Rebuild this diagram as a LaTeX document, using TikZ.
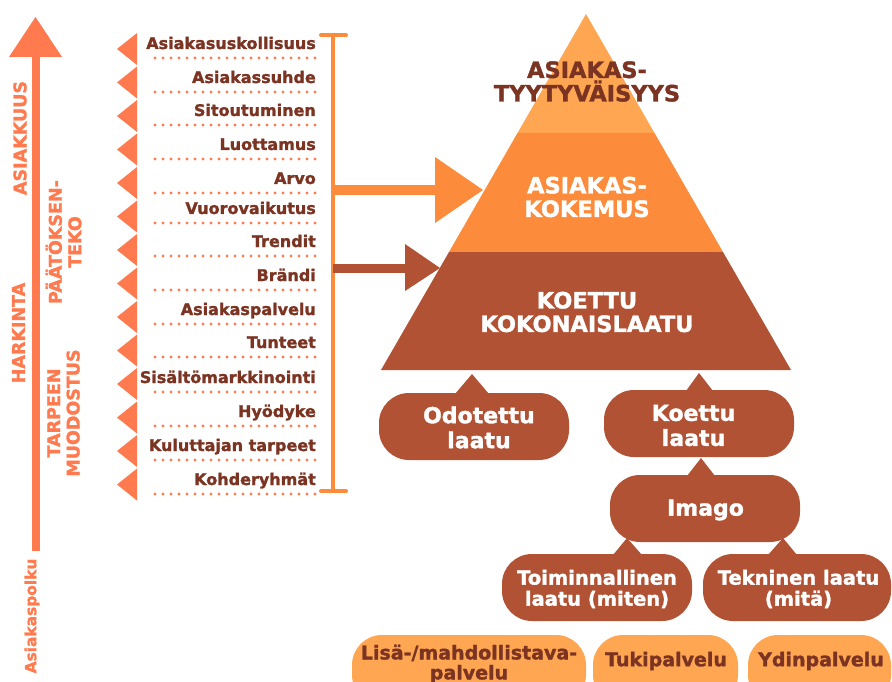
\documentclass[tikz,border=0pt]{standalone}
\usepackage{fontspec}
\setmainfont{DejaVu Sans}[BoldFeatures={FakeBold=1.5}]
\definecolor{coral}{HTML}{FF7B4F}
\definecolor{brn}{HTML}{B25234}
\definecolor{lor}{HTML}{FFA653}
\definecolor{mor}{HTML}{FC8C3B}
\definecolor{dtx}{HTML}{7B3322}
\begin{document}
\begin{tikzpicture}[x=1pt,y=-1pt,
 lbl/.style={anchor=base east, text=dtx, font=\fontsize{16}{19}\selectfont\bfseries, inner sep=0pt},
 side/.style={rotate=90, text=coral, font=\fontsize{17.5}{19.5}\selectfont\bfseries, align=center, inner sep=0pt},
 pyr/.style={font=\fontsize{22.5}{23.5}\selectfont\bfseries, align=center, inner sep=0pt},
 bub/.style={text=white, font=\fontsize{22}{25}\selectfont\bfseries, align=center, inner sep=0pt},
 bubs/.style={text=white, font=\fontsize{19.5}{21}\selectfont\bfseries, align=center, inner sep=0pt},
 obub/.style={text=dtx, font=\fontsize{19}{20}\selectfont\bfseries, align=center, inner sep=0pt},
 dots/.style={coral, line width=3.3pt, line cap=round, dash pattern=on 0pt off 8pt},
 bshape/.style={rounded corners=30pt},
]
\useasboundingbox (0,0) rectangle (892,682);
\fill[white] (0,0) rectangle (892,682);

% left customer path arrow
\coordinate (pathbot) at (36,551);
\coordinate (pathtop) at (36,57);
\fill[coral] (32,551) rectangle (40,56);
\fill[coral] (9,57) -- (62,57) -- (35.5,17) -- cycle;
\node[side] (asiakkuus) at (20,138) {ASIAKKUUS};
\node[side] (harkinta) at (18.5,333) {HARKINTA};
\node[side] (paatos) at (63.5,242) {PÄÄTÖKSEN-\\TEKO};
\node[side] (tarve) at (63.5,413) {TARPEEN\\MUODOSTUS};
\node[side, font=\fontsize{15.4}{18}\selectfont\bfseries] (polku) at (32,616) {Asiakaspolku};

% triangles
\foreach \i in {0,...,13}{
  \pgfmathsetmacro\yy{49+33.5*\i}
  \fill[coral] (137,\yy-16) -- (117,\yy) -- (137,\yy+16) -- cycle;
}

% labels with dotted lines
\foreach \t/\y [count=\i] in {Asiakasuskollisuus/43,Asiakassuhde/77,Sitoutuminen/110,Luottamus/144,Arvo/178,Vuorovaikutus/208,Trendit/241,Brändi/275,Asiakaspalvelu/309,Tunteet/342,Sisältömarkkinointi/377,Hyödyke/411,Kuluttajan tarpeet/445,Kohderyhmät/479}{
  \node[lbl] (lab\i) at (316,{\y+6}) {\t};
  \draw[dots] (155,{\y+15}) -- (316,{\y+15});
}

% bracket
\coordinate (brtop) at (333,35);
\coordinate (brbot) at (333,491);
\draw[mor, line width=4pt] (brtop) -- (brbot);
\draw[mor, line width=4pt, line cap=round] (321,35) -- (346,35);
\draw[mor, line width=4pt, line cap=round] (321,491) -- (346,491);

% arrows to pyramid
\fill[mor] (333,185) rectangle (436,195);
\fill[mor] (435,157) -- (483,190) -- (435,223) -- cycle;
\fill[brn] (333,263.5) rectangle (406,272.5);
\fill[brn] (405,244) -- (440,268) -- (405,291) -- cycle;

% pyramid
\fill[lor] (586,14) -- (517.5,133) -- (654.5,133) -- cycle;
\fill[mor] (517.5,133) -- (449,252) -- (723,252) -- (654.5,133) -- cycle;
\fill[brn] (449,252) -- (381,370) -- (791,370) -- (723,252) -- cycle;
\node[pyr, text=dtx] (tyyt) at (587,81.5) {ASIAKAS-\\TYYTYVÄISYYS};
\node[pyr, text=white] (kokem) at (587,197) {ASIAKAS-\\KOKEMUS};
\node[pyr, text=white] (kokon) at (587,312) {KOETTU\\KOKONAISLAATU};

% brown bubbles
\fill[brn, bshape] (379,393) rectangle (569,460);
\fill[brn] (455,394) -- (472,374) -- (489,394) -- cycle;
\fill[brn, bshape] (604,390) rectangle (794,457);
\fill[brn] (686,391) -- (699,373) -- (713,391) -- cycle;
\fill[brn, bshape] (610,475) rectangle (800,542);
\fill[brn] (687,476) -- (701,458) -- (715,476) -- cycle;
\fill[brn, bshape] (502,554) rectangle (692,621);
\fill[brn] (613,555) -- (627,538) -- (642,555) -- cycle;
\fill[brn, bshape] (703,554) rectangle (891,621);
\fill[brn] (768,555) -- (783,538) -- (797,555) -- cycle;
\node[bub] (odot) at (479,427.5) {Odotettu\\laatu};
\node[bub] (koet) at (693.5,425.5) {Koettu\\laatu};
\node[bub] (imago) at (705.5,510) {Imago};
\node[bubs] (toim) at (597,589) {Toiminnallinen\\laatu (miten)};
\node[bubs] (tekn) at (798.5,589) {Tekninen laatu\\(mitä)};

% orange bubbles
\fill[lor, bshape] (352,635) rectangle (586,705);
\fill[lor, bshape] (593,635) rectangle (738,705);
\fill[lor, bshape] (748,635) rectangle (891,705);
\node[obub] (lisa) at (469,664) {Lisä-/mahdollistava-\\palvelu};
\node[obub] (tuki) at (666,661) {Tukipalvelu};
\node[obub] (ydin) at (821,661) {Ydinpalvelu};
\end{tikzpicture}
\end{document}
